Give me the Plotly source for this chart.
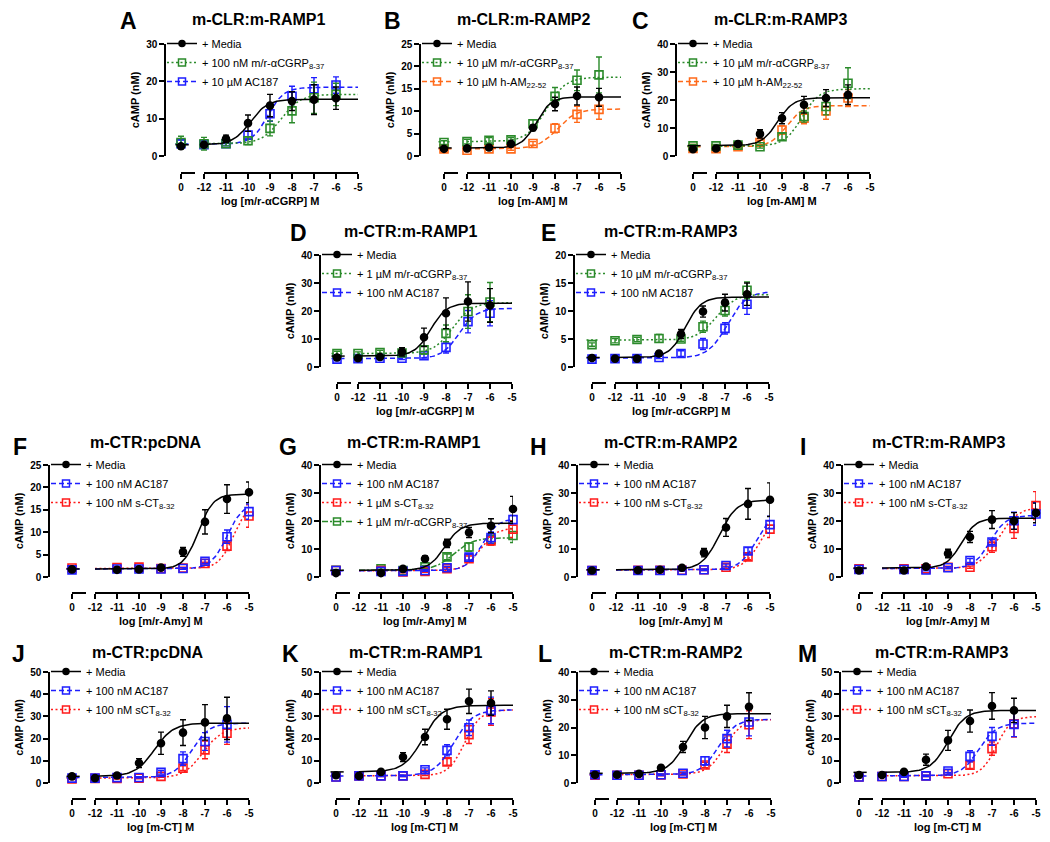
import numpy as np
import plotly.graph_objects as go

# log concentration (M); 0 = vehicle, shown on the short broken piece of the x axis
X_STD = [0, -12, -11, -10, -9, -8, -7, -6]
X_AMY = [0, -11, -10, -9, -8, -7, -6, -5]
X_TICKS = [-12, -11, -10, -9, -8, -7, -6, -5]

# fits are (bottom, top, logEC50, hill)
# A  m-CLR:m-RAMP1
A_MEDIA = [2.6, 3.0, 4.6, 8.8, 13.5, 14.7, 15.1, 15.5]
A_MEDIA_ERR = [0.6, 0.6, 1.0, 2.2, 3.0, 2.5, 4.0, 3.0]
A_MEDIA_FIT = (3.0, 15.2, -9.9, 1.1)
A_CGRP = [3.6, 3.3, 3.3, 4.1, 7.4, 12.1, 15.6, 16.5]
A_CGRP_ERR = [1.7, 1.7, 0.6, 1.0, 2.0, 3.2, 4.2, 3.0]
A_CGRP_FIT = (3.3, 16.5, -8.5, 1.0)
A_AC187 = [3.3, 3.0, 3.3, 5.6, 11.3, 16.0, 18.0, 19.0]
A_AC187_ERR = [1.0, 0.7, 0.6, 1.0, 2.0, 2.7, 3.0, 2.2]
A_AC187_FIT = (3.2, 18.4, -9.1, 1.2)

# B  m-CLR:m-RAMP2
B_MEDIA = [1.6, 1.7, 1.9, 2.7, 6.3, 11.6, 13.4, 13.1]
B_MEDIA_ERR = [0.3, 0.3, 0.3, 0.4, 0.6, 1.5, 2.0, 2.0]
B_MEDIA_FIT = (1.8, 13.2, -8.85, 1.3)
B_CGRP = [3.0, 3.2, 3.5, 3.6, 7.2, 13.3, 16.9, 18.1]
B_CGRP_ERR = [0.4, 0.5, 0.6, 0.5, 0.9, 2.0, 2.3, 4.0]
B_CGRP_FIT = (3.2, 17.6, -8.4, 1.0)
B_AM = [1.6, 1.3, 1.6, 1.6, 2.8, 6.2, 9.3, 10.4]
B_AM_ERR = [0.3, 0.3, 0.3, 0.3, 0.4, 1.0, 1.8, 2.2]
B_AM_FIT = (1.6, 10.5, -7.9, 1.0)

# C  m-CLR:m-RAMP3
C_MEDIA = [2.4, 2.7, 4.3, 7.9, 13.5, 18.3, 20.7, 21.9]
C_MEDIA_ERR = [0.5, 0.5, 0.8, 1.5, 2.0, 3.0, 3.0, 3.5]
C_MEDIA_FIT = (3.7, 20.8, -9.2, 1.2)
C_CGRP = [3.6, 3.6, 3.9, 3.3, 6.9, 14.1, 17.7, 26.0]
C_CGRP_ERR = [0.5, 0.5, 0.6, 0.5, 1.2, 2.0, 3.0, 5.5]
C_CGRP_FIT = (3.5, 24.0, -8.1, 1.1)
C_AM = [2.7, 2.6, 3.3, 4.8, 9.3, 13.5, 16.1, 20.7]
C_AM_ERR = [0.4, 0.4, 0.5, 0.8, 1.5, 2.0, 3.0, 3.0]
C_AM_FIT = (3.3, 18.0, -8.8, 1.2)

# D  m-CTR:m-RAMP1 (CGRP)
D_MEDIA = [3.4, 3.1, 3.6, 5.4, 10.6, 19.2, 23.4, 22.0]
D_MEDIA_ERR = [1.0, 0.8, 0.8, 1.5, 3.3, 5.5, 7.0, 6.0]
D_MEDIA_FIT = (3.9, 22.8, -8.7, 1.2)
D_CGRP = [4.8, 4.8, 5.2, 5.0, 6.1, 12.0, 19.8, 23.2]
D_CGRP_ERR = [0.8, 0.6, 0.8, 0.8, 1.5, 3.0, 6.0, 7.0]
D_CGRP_FIT = (4.8, 23.0, -7.7, 1.0)
D_AC187 = [2.8, 3.0, 3.1, 3.1, 4.0, 7.0, 16.2, 19.2]
D_AC187_ERR = [0.6, 0.5, 0.5, 0.4, 0.8, 2.0, 4.0, 4.5]
D_AC187_FIT = (3.0, 21.0, -7.4, 1.1)

# E  m-CTR:m-RAMP3 (CGRP)
E_MEDIA = [1.6, 1.5, 1.5, 2.4, 5.9, 9.9, 11.5, 13.0]
E_MEDIA_ERR = [0.3, 0.2, 0.2, 0.3, 0.8, 1.0, 1.5, 2.0]
E_MEDIA_FIT = (1.7, 12.5, -8.8, 1.2)
E_CGRP = [4.0, 4.7, 4.9, 5.1, 5.0, 7.2, 10.1, 13.7]
E_CGRP_ERR = [0.3, 0.4, 0.4, 0.7, 0.4, 1.0, 1.0, 1.5]
E_CGRP_FIT = (4.8, 13.0, -7.4, 1.0)
E_AC187 = [1.4, 1.5, 1.5, 1.7, 2.4, 4.1, 6.9, 11.2]
E_AC187_ERR = [0.2, 0.2, 0.2, 0.2, 0.5, 1.0, 1.0, 1.8]
E_AC187_FIT = (1.6, 13.5, -6.9, 1.0)

# F  m-CTR:pcDNA (Amy)
F_MEDIA = [1.7, 1.6, 1.7, 2.1, 5.6, 12.3, 17.4, 18.9]
F_MEDIA_ERR = [0.3, 0.3, 0.3, 0.3, 1.0, 2.7, 3.2, 2.3]
F_MEDIA_FIT = (1.8, 18.5, -7.3, 1.3)
F_AC187 = [1.6, 1.8, 1.8, 1.8, 1.9, 3.5, 9.0, 14.6]
F_AC187_ERR = [0.2, 0.2, 0.2, 0.2, 0.2, 0.5, 1.5, 1.7]
F_AC187_FIT = (1.8, 16.5, -6.0, 1.2)
F_SCT = [2.0, 2.1, 2.2, 1.9, 2.0, 3.0, 6.9, 13.6]
F_SCT_ERR = [0.2, 0.2, 0.2, 0.2, 0.2, 0.3, 1.0, 2.5]
F_SCT_FIT = (1.9, 16.5, -5.7, 1.3)

# G  m-CTR:m-RAMP1 (Amy)
G_MEDIA = [1.4, 1.4, 2.9, 6.5, 12.0, 15.9, 18.3, 24.3]
G_MEDIA_ERR = [0.3, 0.3, 0.5, 1.0, 1.5, 1.8, 2.5, 4.5]
G_MEDIA_FIT = (2.4, 19.2, -8.1, 1.2)
G_AC187 = [2.3, 2.0, 2.0, 2.3, 3.3, 7.1, 14.1, 20.5]
G_AC187_ERR = [0.3, 0.3, 0.3, 0.3, 0.5, 1.0, 2.0, 1.5]
G_AC187_FIT = (2.2, 21.0, -6.4, 1.2)
G_SCT = [2.3, 2.3, 1.8, 2.0, 3.0, 6.5, 12.9, 17.1]
G_SCT_ERR = [0.3, 0.3, 0.3, 0.3, 0.4, 1.0, 1.5, 3.0]
G_SCT_FIT = (2.2, 17.5, -6.5, 1.2)
G_CGRP = [2.4, 2.9, 2.3, 3.6, 7.2, 10.7, 13.5, 14.8]
G_CGRP_ERR = [0.3, 0.4, 0.3, 0.5, 1.0, 1.5, 2.0, 2.5]
G_CGRP_FIT = (2.4, 14.0, -7.7, 1.0)

# H  m-CTR:m-RAMP2 (Amy)
H_MEDIA = [2.3, 2.4, 2.6, 3.3, 8.7, 17.7, 26.1, 27.6]
H_MEDIA_ERR = [0.3, 0.3, 0.3, 0.4, 1.5, 3.2, 5.5, 6.0]
H_MEDIA_FIT = (2.6, 27.5, -7.3, 1.1)
H_AC187 = [2.3, 2.3, 2.3, 2.3, 2.6, 4.1, 9.3, 18.7]
H_AC187_ERR = [0.2, 0.2, 0.2, 0.2, 0.3, 0.5, 1.2, 3.0]
H_AC187_FIT = (2.5, 24.0, -5.6, 1.1)
H_SCT = [2.3, 2.4, 2.4, 2.4, 2.6, 3.5, 7.2, 17.1]
H_SCT_ERR = [0.2, 0.2, 0.2, 0.2, 0.3, 0.4, 1.0, 3.0]
H_SCT_FIT = (2.5, 24.0, -5.4, 1.1)

# I  m-CTR:m-RAMP3 (Amy)
I_MEDIA = [2.3, 2.3, 3.7, 8.4, 14.3, 20.5, 20.0, 22.9]
I_MEDIA_ERR = [0.3, 0.3, 0.5, 1.5, 2.0, 3.2, 3.0, 3.5]
I_MEDIA_FIT = (3.2, 21.0, -8.4, 1.3)
I_AC187 = [2.7, 2.7, 2.5, 3.3, 5.9, 12.5, 20.1, 22.5]
I_AC187_ERR = [0.3, 0.3, 0.3, 0.4, 0.7, 1.0, 3.0, 4.0]
I_AC187_FIT = (3.0, 22.0, -7.1, 1.2)
I_SCT = [2.9, 2.9, 2.9, 3.5, 3.5, 10.8, 17.3, 25.5]
I_SCT_ERR = [0.3, 0.3, 0.3, 0.4, 0.4, 2.0, 3.5, 5.0]
I_SCT_FIT = (3.0, 25.0, -6.7, 1.0)

# J  m-CTR:pcDNA (CT)
J_MEDIA = [3.0, 2.2, 3.4, 9.0, 17.9, 22.7, 27.3, 29.1]
J_MEDIA_ERR = [0.5, 0.4, 0.6, 2.0, 5.0, 5.8, 8.0, 9.5]
J_MEDIA_FIT = (3.0, 27.0, -9.3, 1.0)
J_AC187 = [2.2, 2.2, 2.4, 2.5, 4.8, 11.0, 18.7, 26.4]
J_AC187_ERR = [0.3, 0.3, 0.3, 0.3, 0.8, 3.0, 4.0, 8.0]
J_AC187_FIT = (2.5, 27.0, -7.6, 1.1)
J_SCT = [1.8, 2.1, 2.1, 2.2, 3.0, 6.7, 14.9, 22.4]
J_SCT_ERR = [0.3, 0.3, 0.3, 0.3, 0.4, 1.0, 4.0, 5.0]
J_SCT_FIT = (2.2, 25.0, -7.1, 1.0)

# K  m-CTR:m-RAMP1 (CT)
K_MEDIA = [3.5, 3.2, 5.0, 11.7, 20.7, 28.7, 36.8, 36.0]
K_MEDIA_ERR = [0.5, 0.5, 0.6, 2.0, 3.5, 4.5, 5.5, 5.5]
K_MEDIA_FIT = (5.0, 35.0, -9.1, 1.0)
K_AC187 = [2.7, 3.2, 3.2, 3.2, 6.0, 14.7, 24.9, 32.7]
K_AC187_ERR = [0.3, 0.3, 0.3, 0.3, 0.8, 2.5, 3.5, 6.0]
K_AC187_FIT = (3.2, 33.0, -7.7, 1.0)
K_SCT = [2.7, 3.2, 3.2, 3.2, 3.9, 9.5, 21.8, 32.0]
K_SCT_ERR = [0.3, 0.3, 0.3, 0.3, 0.5, 1.5, 4.0, 6.0]
K_SCT_FIT = (3.2, 33.0, -7.2, 1.2)

# L  m-CTR:m-RAMP2 (CT)
L_MEDIA = [3.0, 3.0, 3.3, 5.5, 13.0, 20.0, 24.0, 27.5]
L_MEDIA_ERR = [0.4, 0.4, 0.5, 0.8, 2.0, 4.0, 4.0, 5.0]
L_MEDIA_FIT = (3.5, 25.0, -8.9, 1.1)
L_AC187 = [3.0, 2.8, 2.8, 3.0, 3.5, 8.0, 16.0, 22.0]
L_AC187_ERR = [0.3, 0.3, 0.3, 0.3, 0.5, 1.5, 3.0, 5.0]
L_AC187_FIT = (3.0, 23.0, -7.4, 1.1)
L_SCT = [2.8, 2.8, 2.8, 2.9, 3.3, 6.5, 14.0, 21.0]
L_SCT_ERR = [0.3, 0.3, 0.3, 0.3, 0.4, 1.0, 3.0, 5.0]
L_SCT_FIT = (3.0, 23.0, -7.1, 1.1)

# M  m-CTR:m-RAMP3 (CT)
M_MEDIA = [3.6, 3.6, 5.0, 10.5, 19.2, 27.9, 34.7, 32.7]
M_MEDIA_ERR = [0.5, 0.5, 1.0, 2.5, 4.5, 5.0, 6.0, 5.5]
M_MEDIA_FIT = (4.8, 32.7, -9.0, 1.1)
M_AC187 = [2.7, 2.9, 2.9, 3.2, 5.4, 12.0, 21.0, 26.4]
M_AC187_ERR = [0.3, 0.3, 0.3, 0.3, 0.8, 2.5, 4.0, 5.5]
M_AC187_FIT = (3.2, 27.0, -7.6, 1.1)
M_SCT = [2.7, 2.9, 2.9, 3.2, 4.2, 8.0, 15.5, 26.7]
M_SCT_ERR = [0.3, 0.3, 0.3, 0.3, 0.5, 1.5, 3.0, 6.0]
M_SCT_FIT = (3.2, 30.0, -6.8, 1.3)

CGRP = 'm/r-αCGRP<sub>8-37</sub>'
AM = 'h-AM<sub>22-52</sub>'
SCT = 's-CT<sub>8-32</sub>'
SCT2 = 'sCT<sub>8-32</sub>'

PANELS = [
    ('A', 'm-CLR:m-RAMP1', 'log [m/r-αCGRP] M', X_STD, 30, 10, [
        ('+ Media', 'media', A_MEDIA, A_MEDIA_ERR, A_MEDIA_FIT),
        ('+ 100 nM ' + CGRP, 'cgrp', A_CGRP, A_CGRP_ERR, A_CGRP_FIT),
        ('+ 10 µM AC187', 'ac187', A_AC187, A_AC187_ERR, A_AC187_FIT)]),
    ('B', 'm-CLR:m-RAMP2', 'log [m-AM] M', X_STD, 25, 5, [
        ('+ Media', 'media', B_MEDIA, B_MEDIA_ERR, B_MEDIA_FIT),
        ('+ 10 µM ' + CGRP, 'cgrp', B_CGRP, B_CGRP_ERR, B_CGRP_FIT),
        ('+ 10 µM ' + AM, 'am', B_AM, B_AM_ERR, B_AM_FIT)]),
    ('C', 'm-CLR:m-RAMP3', 'log [m-AM] M', X_STD, 40, 10, [
        ('+ Media', 'media', C_MEDIA, C_MEDIA_ERR, C_MEDIA_FIT),
        ('+ 10 µM ' + CGRP, 'cgrp', C_CGRP, C_CGRP_ERR, C_CGRP_FIT),
        ('+ 10 µM ' + AM, 'am', C_AM, C_AM_ERR, C_AM_FIT)]),
    ('D', 'm-CTR:m-RAMP1', 'log [m/r-αCGRP] M', X_STD, 40, 10, [
        ('+ Media', 'media', D_MEDIA, D_MEDIA_ERR, D_MEDIA_FIT),
        ('+ 1 µM ' + CGRP, 'cgrp', D_CGRP, D_CGRP_ERR, D_CGRP_FIT),
        ('+ 100 nM AC187', 'ac187', D_AC187, D_AC187_ERR, D_AC187_FIT)]),
    ('E', 'm-CTR:m-RAMP3', 'log [m/r-αCGRP] M', X_STD, 20, 5, [
        ('+ Media', 'media', E_MEDIA, E_MEDIA_ERR, E_MEDIA_FIT),
        ('+ 10 µM ' + CGRP, 'cgrp', E_CGRP, E_CGRP_ERR, E_CGRP_FIT),
        ('+ 100 nM AC187', 'ac187', E_AC187, E_AC187_ERR, E_AC187_FIT)]),
    ('F', 'm-CTR:pcDNA', 'log [m/r-Amy] M', X_AMY, 25, 5, [
        ('+ Media', 'media', F_MEDIA, F_MEDIA_ERR, F_MEDIA_FIT),
        ('+ 100 nM AC187', 'ac187', F_AC187, F_AC187_ERR, F_AC187_FIT),
        ('+ 100 nM ' + SCT, 'sct', F_SCT, F_SCT_ERR, F_SCT_FIT)]),
    ('G', 'm-CTR:m-RAMP1', 'log [m/r-Amy] M', X_AMY, 40, 10, [
        ('+ Media', 'media', G_MEDIA, G_MEDIA_ERR, G_MEDIA_FIT),
        ('+ 100 nM AC187', 'ac187', G_AC187, G_AC187_ERR, G_AC187_FIT),
        ('+ 1 µM ' + SCT, 'sct', G_SCT, G_SCT_ERR, G_SCT_FIT),
        ('+ 1 µM ' + CGRP, 'cgrp_dd', G_CGRP, G_CGRP_ERR, G_CGRP_FIT)]),
    ('H', 'm-CTR:m-RAMP2', 'log [m/r-Amy] M', X_AMY, 40, 10, [
        ('+ Media', 'media', H_MEDIA, H_MEDIA_ERR, H_MEDIA_FIT),
        ('+ 100 nM AC187', 'ac187', H_AC187, H_AC187_ERR, H_AC187_FIT),
        ('+ 100 nM ' + SCT, 'sct', H_SCT, H_SCT_ERR, H_SCT_FIT)]),
    ('I', 'm-CTR:m-RAMP3', 'log [m/r-Amy] M', X_AMY, 40, 10, [
        ('+ Media', 'media', I_MEDIA, I_MEDIA_ERR, I_MEDIA_FIT),
        ('+ 100 nM AC187', 'ac187', I_AC187, I_AC187_ERR, I_AC187_FIT),
        ('+ 100 nM ' + SCT, 'sct', I_SCT, I_SCT_ERR, I_SCT_FIT)]),
    ('J', 'm-CTR:pcDNA', 'log [m-CT] M', X_STD, 50, 10, [
        ('+ Media', 'media', J_MEDIA, J_MEDIA_ERR, J_MEDIA_FIT),
        ('+ 100 nM AC187', 'ac187', J_AC187, J_AC187_ERR, J_AC187_FIT),
        ('+ 100 nM ' + SCT2, 'sct', J_SCT, J_SCT_ERR, J_SCT_FIT)]),
    ('K', 'm-CTR:m-RAMP1', 'log [m-CT] M', X_STD, 50, 10, [
        ('+ Media', 'media', K_MEDIA, K_MEDIA_ERR, K_MEDIA_FIT),
        ('+ 100 nM AC187', 'ac187', K_AC187, K_AC187_ERR, K_AC187_FIT),
        ('+ 100 nM ' + SCT2, 'sct', K_SCT, K_SCT_ERR, K_SCT_FIT)]),
    ('L', 'm-CTR:m-RAMP2', 'log [m-CT] M', X_STD, 40, 10, [
        ('+ Media', 'media', L_MEDIA, L_MEDIA_ERR, L_MEDIA_FIT),
        ('+ 100 nM AC187', 'ac187', L_AC187, L_AC187_ERR, L_AC187_FIT),
        ('+ 100 nM ' + SCT2, 'sct', L_SCT, L_SCT_ERR, L_SCT_FIT)]),
    ('M', 'm-CTR:m-RAMP3', 'log [m-CT] M', X_STD, 50, 10, [
        ('+ Media', 'media', M_MEDIA, M_MEDIA_ERR, M_MEDIA_FIT),
        ('+ 100 nM AC187', 'ac187', M_AC187, M_AC187_ERR, M_AC187_FIT),
        ('+ 100 nM ' + SCT2, 'sct', M_SCT, M_SCT_ERR, M_SCT_FIT)]),
]

# ---- layout, in pixels of the 1050x842 screenshot ----
PAGE_PAD = 8                 # default <body> margin of the html page
W, H = 1050 - 2 * PAGE_PAD, 842 - 2 * PAGE_PAD
UNIT = 22.0      # px per log unit on the x axis
BREAK_LEN = 14   # px, short axis piece that carries the "0"
FONT = 'Liberation Sans, Arial, sans-serif'

# panel: (y-axis x, "0" tick x, "-12" tick x, row, letter x, title x)
GEOM = {
    'A': (166, 181, 204, 1, 128, 258), 'B': (421, 444, 467, 1, 392, 523),
    'C': (677, 693, 716, 1, 640, 780), 'D': (321, 337, 358, 2, 298, 410),
    'E': (575, 592, 615, 2, 548, 670), 'F': (50, 72, 95, 3, 20, 146),
    'G': (321, 336, 359, 3, 288, 413), 'H': (578, 592, 616, 3, 538, 670),
    'I': (843, 859, 882, 3, 803, 938), 'J': (50, 72, 95, 4, 18, 148),
    'K': (321, 336, 359, 4, 290, 415), 'L': (578, 595, 617, 4, 545, 675),
    'M': (841, 859, 882, 4, 807, 941),
}
# row: (y top, y zero, x-axis line, title y, letter y)
ROWS = {1: (44, 156, 173, 19, 21), 2: (255, 367, 383, 231, 233),
        3: (465, 577, 593, 443, 447), 4: (672, 783, 799, 652, 654)}

STYLES = {
    'media': dict(color='black', dash='solid', symbol='circle', size=7),
    'cgrp': dict(color='#2A8A2A', dash='2px,2.5px', symbol='square-open', size=8),
    'cgrp_dd': dict(color='#2A8A2A', dash='6px,2px,2px,2px', symbol='square-open', size=8),
    'ac187': dict(color='#1E1EFF', dash='5px,3px', symbol='square-open', size=8),
    'am': dict(color='#FF6A1A', dash='5px,3px', symbol='square-open', size=8),
    'sct': dict(color='#FF1A1A', dash='2px,2.5px', symbol='square-open', size=8),
}


def fx(p):
    return (p - PAGE_PAD) / W


def fy(p):
    return 1 - (p - PAGE_PAD) / H


def ax_name(letter, n):
    return f'{letter}axis' if n == 1 else f'{letter}axis{n}'


def ax_ref(letter, n):
    return letter if n == 1 else f'{letter}{n}'


def logistic(x, fit):
    bottom, top, logec, hill = fit
    return bottom + (top - bottom) / (1 + 10 ** ((logec - x) * hill))


bold = dict(family=FONT, size=10, color='black', weight='bold')
axis_common = dict(showline=True, linewidth=1.5, linecolor='black', ticks='outside',
                   ticklen=5, tickwidth=1.5, tickcolor='black', showgrid=False,
                   zeroline=False, tickfont=bold, fixedrange=True)

fig = go.Figure()
layout = {}
annotations = []

for i, (key, title, xlabel, xvals, ymax, dtick, series) in enumerate(PANELS):
    yax_x, zero_px, m12_px, row, letter_x, title_x = GEOM[key]
    ytop, ybot, xline, title_y, letter_y = ROWS[row]
    right_px = m12_px + 7 * UNIT
    yid, xd, xm, xb = i + 1, 3 * i + 1, 3 * i + 2, 3 * i + 3
    xr, yr = ax_ref('x', xd), ax_ref('y', yid)
    leg = 'legend' if i == 0 else f'legend{i + 1}'

    x_left = -12 - (m12_px - yax_x) / UNIT
    ctrl = -12 - (m12_px - zero_px) / UNIT

    # hidden axis that carries the data (control drawn at the break position)
    layout[ax_name('x', xd)] = dict(domain=[fx(yax_x), fx(right_px)], range=[x_left, -5],
                                    visible=False, anchor=yr, fixedrange=True)
    layout[ax_name('y', yid)] = dict(domain=[fy(ybot), fy(ytop)], range=[0, ymax],
                                     tick0=0, dtick=dtick, anchor=xr,
                                     title=dict(text='cAMP (nM)', standoff=4,
                                                font=dict(family=FONT, size=11, weight='bold')),
                                     **axis_common)
    # visible broken x axis: long piece and short "0" piece
    layout[ax_name('x', xm)] = dict(domain=[fx(m12_px), fx(right_px)], range=[-12, -5],
                                    anchor='free', position=fy(xline), tickmode='array',
                                    tickvals=X_TICKS, ticktext=[str(v) for v in X_TICKS],
                                    **axis_common)
    layout[ax_name('x', xb)] = dict(domain=[fx(zero_px), fx(zero_px + BREAK_LEN)],
                                    range=[0, BREAK_LEN / UNIT], anchor='free',
                                    position=fy(xline), tickmode='array',
                                    tickvals=[0], ticktext=['0'], **axis_common)
    for n in (xm, xb):
        fig.add_trace(go.Scatter(x=[None], y=[None], xaxis=ax_ref('x', n), yaxis=yr,
                                 showlegend=False, hoverinfo='skip'))
    layout[leg] = dict(x=fx(yax_x - 4), y=fy(ytop - 15), xanchor='left', yanchor='top',
                       bgcolor='rgba(0,0,0,0)', itemwidth=30, tracegroupgap=0,
                       font=dict(family=FONT, size=11, color='black'))

    # legend entries
    for label, skey, vals, err, fit in series:
        st = STYLES[skey]
        fig.add_trace(go.Scatter(
            x=[None], y=[None], xaxis=xr, yaxis=yr, mode='lines+markers', name=label,
            legend=leg, line=dict(color=st['color'], dash=st['dash'], width=1.5),
            marker=dict(symbol=st['symbol'], size=st['size'] - 1, color=st['color'],
                        line=dict(width=1.5, color=st['color']))))

    xs = [ctrl if v == 0 else v for v in xvals]
    grid = np.linspace(-12, max(xvals), 150)
    for label, skey, vals, err, fit in reversed(series):
        st = STYLES[skey]
        line = dict(color=st['color'], dash=st['dash'], width=1.5)
        fig.add_trace(go.Scatter(x=grid, y=logistic(grid, fit), xaxis=xr, yaxis=yr,
                                 mode='lines', line=line, showlegend=False, hoverinfo='skip'))
        fig.add_trace(go.Scatter(x=[ctrl - 0.25, ctrl + 0.35], y=[fit[0], fit[0]],
                                 xaxis=xr, yaxis=yr, mode='lines', line=line,
                                 showlegend=False, hoverinfo='skip'))
        fig.add_trace(go.Scatter(
            x=xs, y=vals, xaxis=xr, yaxis=yr, mode='markers', showlegend=False,
            cliponaxis=False, name=label,
            marker=dict(symbol=st['symbol'], size=st['size'], color=st['color'],
                        line=dict(width=1.6, color=st['color'])),
            error_y=dict(type='data', array=err, color=st['color'], thickness=1.4, width=3)))

    annotations += [
        dict(text=key, x=fx(letter_x), y=fy(letter_y), xref='paper', yref='paper',
             showarrow=False, xanchor='center', yanchor='middle',
             font=dict(family=FONT, size=23, color='black', weight='bold')),
        dict(text=title, x=fx(title_x), y=fy(title_y), xref='paper', yref='paper',
             showarrow=False, xanchor='center', yanchor='middle',
             font=dict(family=FONT, size=16, color='black', weight='bold')),
        dict(text=xlabel, x=fx((zero_px + right_px) / 2), y=fy(xline + 28),
             xref='paper', yref='paper', showarrow=False, xanchor='center',
             yanchor='middle', font=dict(family=FONT, size=11, color='black', weight='bold')),
    ]

fig.update_layout(width=W, height=H, margin=dict(l=0, r=0, t=0, b=0, autoexpand=False),
                  template='none', paper_bgcolor='white', plot_bgcolor='rgba(0,0,0,0)',
                  font=dict(family=FONT, color='black'),
                  annotations=annotations, **layout)
fig.write_html('out.html')
